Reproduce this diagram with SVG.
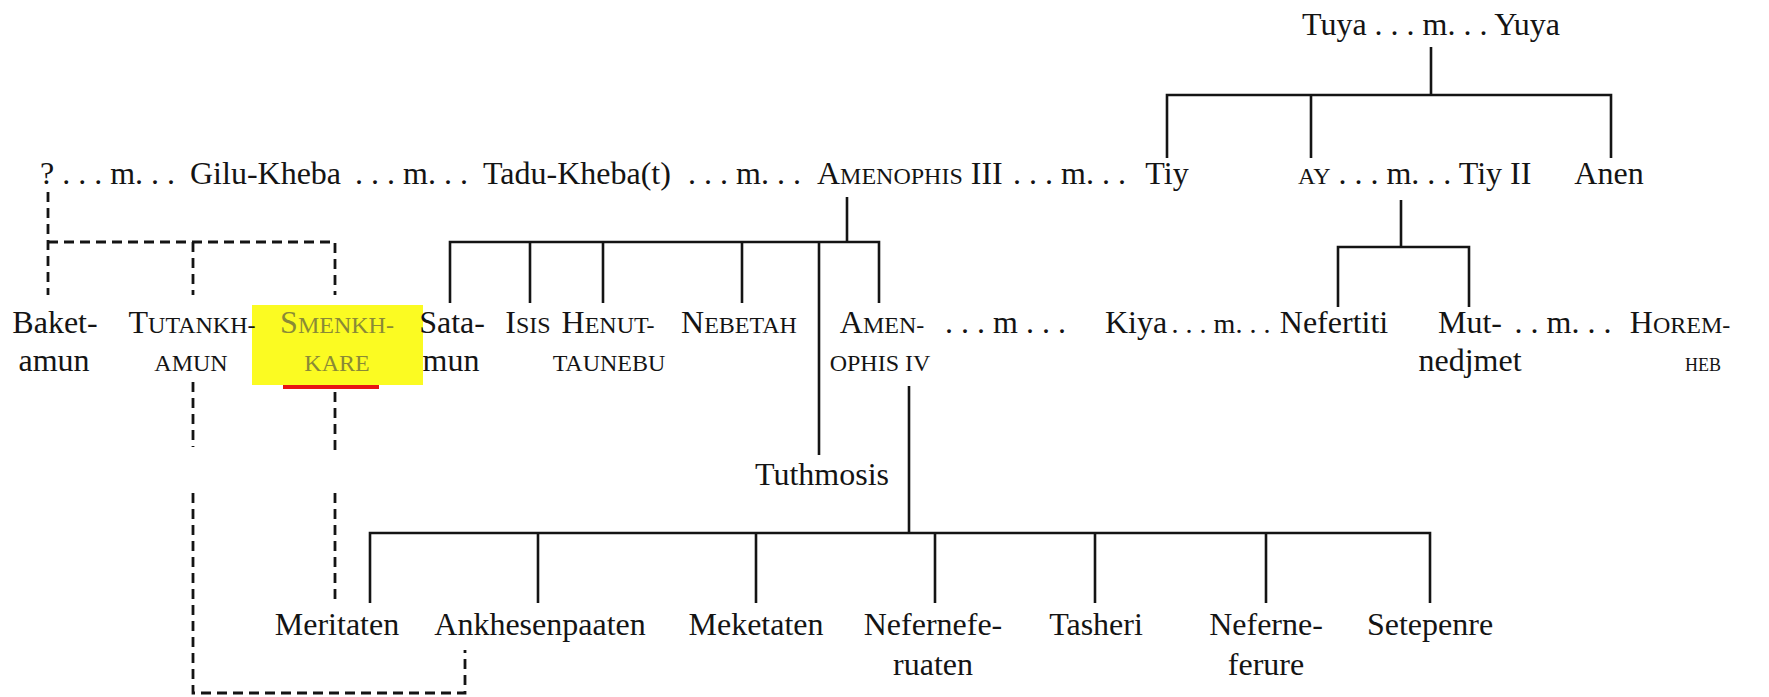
<svg xmlns="http://www.w3.org/2000/svg" width="1769" height="697" viewBox="0 0 1769 697">
<style>
text{font-family:"Liberation Serif","Times New Roman",serif;font-size:32px;fill:#141414}
.m{text-anchor:middle}
.sc{font-size:24px}
.xs{font-size:18px}
.dots{font-size:28px}
.hl{fill:#8a8a36}
.solid path{fill:none;stroke:#141414;stroke-width:2.6}
.dash path{fill:none;stroke:#141414;stroke-width:2.8;stroke-dasharray:10 6}
</style>
<rect width="1769" height="697" fill="#ffffff"/>
<g id="highlight">
<rect x="252" y="305" width="171" height="80" fill="#fbfb22"/>
<rect x="283" y="385" width="96" height="4" fill="#e81414"/>
</g>
<g id="connectors">
<g class="solid">
<path d="M1431 47V95M1167 158V95H1611V158M1311 95V158"/>
<path d="M847 197V242M450 303V242H879V303M530 242V303M603 242V303M742 242V303M819 242V455"/>
<path d="M1401 200V247M1338 307V247H1469V307"/>
<path d="M909 386V533M370 603V533H1430V603M538 533V603M756 533V603M935 533V603M1095 533V603M1266 533V603"/>
</g>
<g class="dash">
<path d="M48 192V295M48 242H335V295M193 242V295"/>
<path d="M193 382V447M193 493V693H465V650"/>
<path d="M335 392V452M335 493V602"/>
</g>
</g>
<g id="tuya-yuya"><text class="m" x="1431" y="35">Tuya . . . m. . . Yuya</text></g>
<g id="unknown"><text x="40" y="184">? . . . m. . .</text></g>
<g id="gilu-kheba"><text x="190" y="184">Gilu-Kheba</text></g>
<g id="m1"><text x="355" y="184">. . . m. . .</text></g>
<g id="tadu-kheba"><text x="483" y="184">Tadu-Kheba(t)</text></g>
<g id="m2"><text x="688" y="184">. . . m. . .</text></g>
<g id="amenophis-iii"><text x="817" y="184">A<tspan class="sc">MENOPHIS</tspan> III</text></g>
<g id="m3"><text x="1013" y="184">. . . m. . .</text></g>
<g id="tiy"><text class="m" x="1167" y="184">Tiy</text></g>
<g id="ay-tiy2"><text x="1298" y="184"><tspan class="sc">AY</tspan> . . . m. . . Tiy II</text></g>
<g id="anen"><text class="m" x="1609" y="184">Anen</text></g>
<g id="baketamun"><text class="m" x="55" y="333">Baket-</text><text class="m" x="54" y="371">amun</text></g>
<g id="tutankhamun"><text class="m" x="192" y="333">T<tspan class="sc">UTANKH-</tspan></text><text class="m sc" x="191" y="371">AMUN</text></g>
<g id="smenkhkare"><text class="m hl" x="337" y="333">S<tspan class="sc">MENKH-</tspan></text><text class="m sc hl" x="337" y="371">KARE</text></g>
<g id="satamun"><text class="m" x="452" y="333">Sata-</text><text class="m" x="451" y="371">mun</text></g>
<g id="isis"><text class="m" x="528" y="333">I<tspan class="sc">SIS</tspan></text></g>
<g id="henuttaunebu"><text class="m" x="608" y="333">H<tspan class="sc">ENUT-</tspan></text><text class="m sc" x="609" y="371">TAUNEBU</text></g>
<g id="nebetah"><text class="m" x="739" y="333">N<tspan class="sc">EBETAH</tspan></text></g>
<g id="amenophis-iv"><text class="m" x="882" y="333">A<tspan class="sc">MEN-</tspan></text><text class="m sc" x="880" y="371">OPHIS IV</text></g>
<g id="m4"><text x="945" y="333">. . . m . . .</text></g>
<g id="kiya"><text class="m" x="1136" y="333">Kiya</text></g>
<g id="m5"><text class="m dots" x="1221" y="333">. . . m. . .</text></g>
<g id="nefertiti"><text class="m" x="1334" y="333">Nefertiti</text></g>
<g id="mutnedjmet"><text class="m" x="1470" y="333">Mut-</text><text class="m" x="1470" y="371">nedjmet</text></g>
<g id="m6"><text class="m" x="1563" y="333">. . m. . .</text></g>
<g id="horemheb"><text class="m" x="1680" y="333">H<tspan class="sc">OREM-</tspan></text><text class="m xs" x="1703" y="371">HEB</text></g>
<g id="tuthmosis"><text class="m" x="822" y="485">Tuthmosis</text></g>
<g id="meritaten"><text class="m" x="337" y="635">Meritaten</text></g>
<g id="ankhesenpaaten"><text class="m" x="540" y="635">Ankhesenpaaten</text></g>
<g id="meketaten"><text class="m" x="756" y="635">Meketaten</text></g>
<g id="nefernefernuaten"><text class="m" x="933" y="635">Nefernefe-</text><text class="m" x="933" y="675">ruaten</text></g>
<g id="tasheri"><text class="m" x="1096" y="635">Tasheri</text></g>
<g id="neferneferure"><text class="m" x="1266" y="635">Neferne-</text><text class="m" x="1266" y="675">ferure</text></g>
<g id="setepenre"><text class="m" x="1430" y="635">Setepenre</text></g>
</svg>
